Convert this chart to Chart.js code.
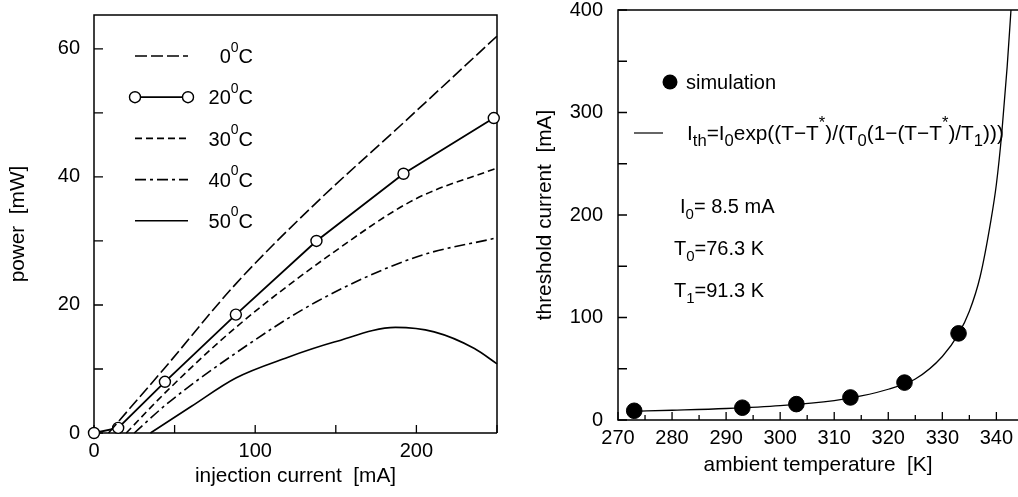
<!DOCTYPE html>
<html>
<head>
<meta charset="utf-8">
<script src="https://cdn.jsdelivr.net/npm/chart.js@4.4.1/dist/chart.umd.min.js"></script>
<style>
  body { margin: 0; background: #fff; }
  #wrap { position: relative; width: 1018px; height: 497px; }
  canvas { position: absolute; top: 0; }
  #left { left: 0; }
  #right { left: 510px; }
</style>
</head>
<body>
<div id="wrap">
  <canvas id="left" width="510" height="497"></canvas>
  <canvas id="right" width="508" height="497"></canvas>
</div>
<script>
// left panel: output power vs injection current, one curve per temperature
// (curves start at their threshold, the part on the zero line is the axis)
const tempLabels = ['0', '20', '30', '40', '50'];
const cur0 = [9, 44, 88, 138, 190, 250];
const pow0 = [0, 10.2, 23.3, 36, 48, 62];
const cur20 = [0, 15, 44, 88, 138, 192, 248];
const pow20 = [0, 0.8, 8, 18.5, 30, 40.5, 49.2];
const cur30 = [20, 45, 88, 149, 199, 250];
const pow30 = [0, 6.5, 16.5, 28.3, 36.5, 41.4];
const cur40 = [25, 45, 88, 138, 200, 250];
const pow40 = [0, 4.5, 12.5, 20.5, 27.5, 30.5];
const cur50 = [35, 60, 88, 120, 149, 187, 211, 236, 250];
const pow50 = [0, 4.1, 8.6, 11.8, 14.2, 16.5, 15.8, 13.2, 10.8];

// right panel: threshold current vs ambient temperature
const simT = [273, 293, 303, 313, 323, 333];
const simI = [9, 12, 15.5, 22, 36.5, 84.5];
const fitT = [273, 280, 290, 300, 310, 315, 320, 325, 330, 333, 335, 337, 339, 340, 341, 342, 342.7];
const fitI = [8.5, 9.5, 11.2, 14, 19, 23.5, 30, 40, 62, 84, 106, 140, 195, 230, 280, 345, 400];

Chart.defaults.font.family = '"Liberation Sans", Arial, sans-serif';
Chart.defaults.color = '#000';

function pts(xs, ys) {
  return xs.map((v, i) => ({ x: v, y: ys[i] }));
}

function fnt(s) {
  return s + 'px "Liberation Sans", Arial, sans-serif';
}

// text with sub/superscripts, y is the vertical middle of the caps
function richText(ctx, x, y, parts, size, align, ratio) {
  const small = size * (ratio || 0.7);
  let w = 0;
  parts.forEach(([t, m]) => {
    ctx.font = fnt(m ? small : size);
    w += ctx.measureText(t).width;
  });
  let cx = align === 'right' ? x - w : x;
  const base = y + size * 0.36;
  ctx.textAlign = 'left';
  ctx.textBaseline = 'alphabetic';
  ctx.fillStyle = '#000';
  parts.forEach(([t, m]) => {
    ctx.font = fnt(m ? small : size);
    let by = base;
    if (m === 'sub') by = base + size * 0.28;
    if (m === 'sup') by = base - size * 0.58;
    ctx.fillText(t, cx, by);
    cx += ctx.measureText(t).width;
  });
}

// frame and inward ticks
function frameTicks(o) {
  return {
    id: 'frameTicks',
    beforeDatasetsDraw(chart) {
      const { ctx, chartArea: a, scales: { x, y } } = chart;
      ctx.save();
      ctx.strokeStyle = '#000';
      ctx.lineWidth = 1.5;
      ctx.beginPath();
      ctx.moveTo(a.right, a.bottom);
      ctx.lineTo(a.left, a.bottom);
      ctx.lineTo(a.left, a.top);
      ctx.lineTo(a.right, a.top);
      if (o.rightBorder) ctx.lineTo(a.right, a.bottom);
      ctx.stroke();
      ctx.lineWidth = 1.3;
      ctx.beginPath();
      x.ticks.forEach(t => {
        const px = x.getPixelForValue(t.value);
        const len = t.value % o.xMajor === 0 ? o.xLen : o.xMinor;
        ctx.moveTo(px, a.bottom);
        ctx.lineTo(px, a.bottom - len);
      });
      y.ticks.forEach(t => {
        const py = y.getPixelForValue(t.value);
        const len = t.value % o.yMajor === 0 ? o.yLen : o.yMinor;
        ctx.moveTo(a.left, py);
        ctx.lineTo(a.left + len, py);
      });
      ctx.stroke();
      ctx.restore();
    }
  };
}

const leftLegend = {
  id: 'leftLegend',
  afterDraw(chart) {
    const ctx = chart.ctx;
    chart.data.datasets.forEach((ds, i) => {
      const yy = 56 + i * 41.2;
      ctx.save();
      ctx.strokeStyle = '#000';
      ctx.lineWidth = ds.borderWidth;
      ctx.setLineDash(ds.borderDash || []);
      ctx.beginPath();
      ctx.moveTo(135, yy);
      ctx.lineTo(188, yy);
      ctx.stroke();
      ctx.setLineDash([]);
      if (ds.pointRadius > 0) {
        [135, 188].forEach(cx => {
          ctx.beginPath();
          ctx.arc(cx, yy, ds.pointRadius, 0, Math.PI * 2);
          ctx.fillStyle = '#fff';
          ctx.fill();
          ctx.lineWidth = ds.pointBorderWidth;
          ctx.stroke();
        });
      }
      ctx.restore();
      richText(ctx, 253, yy, [[tempLabels[i]], ['0', 'sup'], ['C']], 20, 'right');
    });
  }
};

const rightLegend = {
  id: 'rightLegend',
  afterDraw(chart) {
    const ctx = chart.ctx;
    ctx.save();
    ctx.fillStyle = '#000';
    ctx.beginPath();
    ctx.arc(160, 82, 7.5, 0, Math.PI * 2);
    ctx.fill();
    ctx.strokeStyle = '#000';
    ctx.lineWidth = 1.2;
    ctx.beginPath();
    ctx.moveTo(124, 133);
    ctx.lineTo(153, 133);
    ctx.stroke();
    ctx.restore();
    richText(ctx, 176, 82, [['simulation']], 20);
    richText(ctx, 177, 133, [
      ['I'], ['th', 'sub'], ['=I'], ['0', 'sub'], ['exp((T\u2212T'], ['*', 'sup'],
      [')/(T'], ['0', 'sub'], ['(1\u2212(T\u2212T'], ['*', 'sup'], [')/T'], ['1', 'sub'], [')))']
    ], 20.8, 'left', 0.8);
    richText(ctx, 170, 206, [['I'], ['0', 'sub'], ['= 8.5 mA']], 20, 'left', 0.75);
    richText(ctx, 164, 248, [['T'], ['0', 'sub'], ['=76.3 K']], 20, 'left', 0.75);
    richText(ctx, 164, 290, [['T'], ['1', 'sub'], ['=91.3 K']], 20, 'left', 0.75);
  }
};

function lineDs(label, xs, ys, dash, extra) {
  return Object.assign({
    label: label,
    data: pts(xs, ys),
    showLine: true,
    borderColor: '#000',
    borderWidth: 1.6,
    borderDash: dash,
    pointRadius: 0,
    cubicInterpolationMode: 'monotone',
    clip: false
  }, extra || {});
}

// keep the plot box where it is: no extra room for edge labels
function fixY(w) {
  return s => { s.width = w; s.paddingTop = 0; s.paddingBottom = 0; };
}
function fixX(h) {
  return s => { s.height = h; s.paddingLeft = 0; s.paddingRight = 0; };
}

new Chart(document.getElementById('left'), {
  type: 'scatter',
  data: {
    datasets: [
      lineDs('0', cur0, pow0, [12, 4]),
      lineDs('20', cur20, pow20, [], {
        borderWidth: 1.8, pointRadius: 5.5, pointBorderWidth: 1.4,
        pointBackgroundColor: '#fff', pointBorderColor: '#000', cubicInterpolationMode: 'default', tension: 0
      }),
      lineDs('30', cur30, pow30, [7, 4]),
      lineDs('40', cur40, pow40, [11, 4, 3, 4]),
      lineDs('50', cur50, pow50, [])
    ]
  },
  options: {
    responsive: false,
    animation: false,
    devicePixelRatio: 1,
    layout: { autoPadding: false, padding: { top: 15, right: 13, left: 0, bottom: 0 } },
    plugins: { legend: { display: false }, tooltip: { enabled: false } },
    scales: {
      x: {
        type: 'linear', min: 0, max: 250,
        grid: { display: false, drawTicks: false },
        border: { display: false },
        ticks: {
          stepSize: 50, includeBounds: false, padding: 8, maxRotation: 0, autoSkip: false,
          font: { size: 20, lineHeight: 1 },
          callback: v => (v % 100 === 0 ? String(v) : '')
        },
        title: { display: true, text: 'injection current  [mA]', font: { size: 20.8 }, padding: { bottom: 8 } },
        afterFit: fixX(64)
      },
      y: {
        type: 'linear', min: 0, max: 65.3,
        grid: { display: false, drawTicks: false },
        border: { display: false },
        ticks: {
          stepSize: 10, includeBounds: false, padding: 14, autoSkip: false,
          font: { size: 20, lineHeight: 1 },
          callback: v => (v % 20 === 0 ? String(v) : '')
        },
        title: { display: true, text: 'power  [mW]', font: { size: 20.8 }, padding: { top: 6 } },
        afterFit: fixY(94)
      }
    }
  },
  plugins: [frameTicks({ rightBorder: true, xMajor: 50, xLen: 8, xMinor: 8, yMajor: 10, yLen: 9, yMinor: 9 }), leftLegend]
});

new Chart(document.getElementById('right'), {
  type: 'scatter',
  data: {
    datasets: [
      {
        label: 'simulation',
        data: pts(simT, simI),
        pointRadius: 7.8,
        pointBackgroundColor: '#000',
        pointBorderColor: '#000',
        showLine: false,
        clip: false
      },
      lineDs('fit', fitT, fitI, [], { borderWidth: 1.3 })
    ]
  },
  options: {
    responsive: false,
    animation: false,
    devicePixelRatio: 1,
    layout: { autoPadding: false, padding: { top: 10, right: 0, left: 0, bottom: 0 } },
    plugins: { legend: { display: false }, tooltip: { enabled: false } },
    scales: {
      x: {
        type: 'linear', min: 270, max: 344,
        grid: { display: false, drawTicks: false },
        border: { display: false },
        ticks: {
          stepSize: 5, includeBounds: false, padding: 8, maxRotation: 0, autoSkip: false,
          font: { size: 20, lineHeight: 1 },
          callback: v => (v % 10 === 0 ? String(v) : '')
        },
        title: { display: true, text: 'ambient temperature  [K]', font: { size: 20.8 }, padding: { bottom: 19 } },
        afterFit: fixX(77)
      },
      y: {
        type: 'linear', min: 0, max: 400,
        grid: { display: false, drawTicks: false },
        border: { display: false },
        ticks: {
          stepSize: 50, includeBounds: false, padding: 15, autoSkip: false,
          font: { size: 20, lineHeight: 1 },
          callback: v => (v % 100 === 0 ? String(v) : '')
        },
        title: { display: true, text: 'threshold current  [mA]', font: { size: 20.8 }, padding: { top: 23 } },
        afterFit: fixY(108)
      }
    }
  },
  plugins: [frameTicks({ rightBorder: false, xMajor: 10, xLen: 8, xMinor: 5, yMajor: 100, yLen: 9, yMinor: 9 }), rightLegend]
});
</script>
</body>
</html>
